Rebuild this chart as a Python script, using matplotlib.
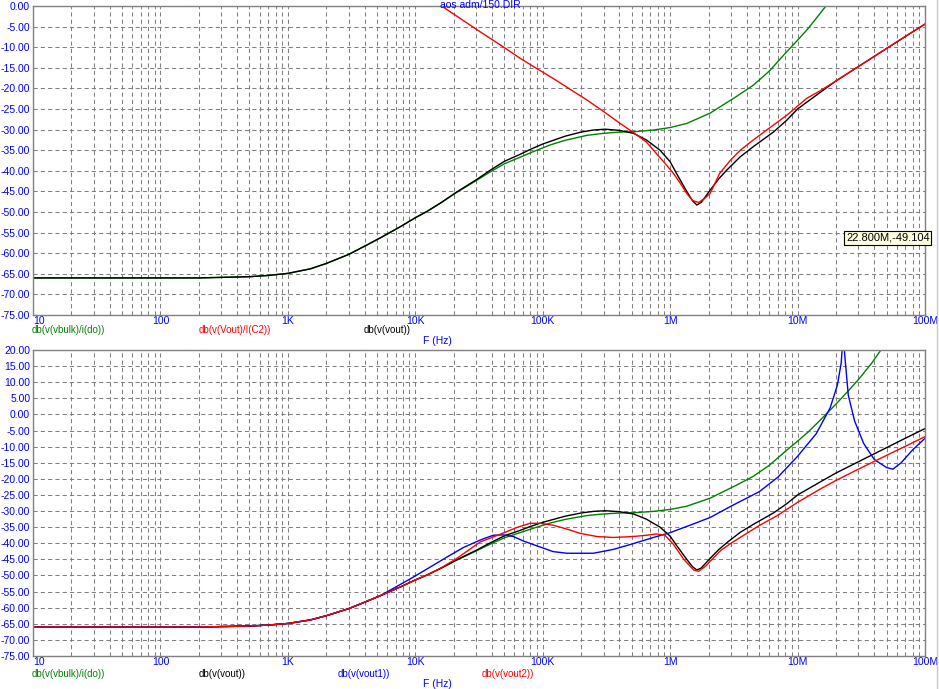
import numpy as np
import matplotlib.pyplot as plt
from matplotlib.ticker import FixedLocator, FuncFormatter
from matplotlib.lines import Line2D

plt.rcParams['font.family'] = ['Liberation Sans', 'DejaVu Sans']

# db(v(vout)) - same trace in both panels
f_vout = [10, 200, 500, 700, 1e3, 1.5e3, 2e3, 3e3, 4e3, 5.3e3, 7.6e3, 1e4, 1.23e4, 1.6e4,
          2.1e4, 3e4, 3.86e4, 5e4, 6.65e4, 8e4, 1e5, 1.5e5, 2e5, 2.5e5, 3.1e5, 4e5,
          5.15e5, 6.5e5, 8.33e5, 1e6, 1.12e6, 1.25e6, 1.35e6, 1.5e6, 1.62e6, 1.75e6,
          1.9e6, 2.06e6, 2.4e6, 2.79e6, 3.55e6, 4.51e6, 6.46e6, 8.24e6, 1e7, 1.5e7,
          2e7, 3e7, 5e7, 7e7, 1e8]
db_vout = [-66.0, -66.0, -65.7, -65.4, -64.9, -63.8, -62.5, -60.3, -58.3, -56.3, -53.6,
           -51.4, -49.9, -47.7, -45.2, -42.2, -39.9, -37.7, -36.0, -34.8, -33.5, -31.6,
           -30.6, -30.1, -29.9, -30.2, -30.9, -32.5, -35.0, -37.8, -40.6, -43.2, -45.0,
           -47.3, -48.3, -47.7, -46.2, -44.7, -42.0, -39.8, -36.6, -34.1, -30.6, -27.7,
           -25.0, -21.0, -18.2, -14.7, -10.3, -7.4, -4.4]

# db(v(vbulk)/i(do)) - both panels
f_bulk = [10, 200, 500, 700, 1e3, 1.5e3, 2e3, 3e3, 4e3, 5.3e3, 7.6e3, 1e4, 1.23e4, 1.6e4,
          2.1e4, 3e4, 3.86e4, 5e4, 6.65e4, 8.5e4, 1.15e5, 1.5e5, 2.22e5, 3e5, 4.05e5,
          5.3e5, 7.4e5, 1e6, 1.35e6, 2.06e6, 3.3e6, 4.5e6, 6e6, 8e6, 1e7, 1.2e7, 1.4e7,
          1.65e7, 2e7, 2.5e7, 3e7, 3.8e7, 4.6e7, 5e7]
db_bulk = [-66.0, -66.0, -65.7, -65.4, -64.9, -63.8, -62.5, -60.3, -58.3, -56.3, -53.6,
           -51.4, -49.9, -47.7, -45.3, -42.4, -40.3, -38.3, -36.7, -35.3, -33.7, -32.6,
           -31.4, -30.9, -30.6, -30.5, -30.1, -29.5, -28.5, -26.0, -22.0, -19.2, -15.8,
           -11.5, -8.3, -5.6, -3.0, -0.2, 3.2, 7.3, 10.8, 15.8, 20.5, 22.0]

# db(v(Vout)/I(C2)) - top panel
f_c2 = [1.61e4, 3.03e4, 5e4, 6.65e4, 9e4, 1.21e5, 1.6e5, 2.22e5, 3e5, 4.05e5, 5.48e5,
        6.5e5, 7.4e5, 9e5, 1.06e6, 1.2e6, 1.35e6, 1.5e6, 1.67e6, 1.85e6, 2.06e6, 2.25e6,
        2.45e6, 3e6, 3.55e6, 4.5e6, 6.46e6, 8.24e6, 1.18e7, 1.5e7, 2e7, 3e7, 5e7, 7e7, 1e8]
db_c2 = [0.0, -5.7, -10.1, -12.7, -15.2, -17.6, -20.0, -22.8, -25.6, -28.5, -31.3,
         -33.0, -35.0, -38.0, -40.6, -43.0, -45.5, -47.2, -47.7, -46.8, -45.5, -43.0,
         -40.6, -37.3, -35.0, -32.5, -28.9, -26.5, -22.4, -20.6, -18.2, -14.7, -10.3,
         -7.4, -4.4]

# db(v(vout1)) - bottom panel
f_vout1 = [10, 200, 500, 700, 1e3, 1.5e3, 2e3, 3e3, 4e3, 5.3e3, 9.66e3, 1.77e4, 2.39e4,
           3.23e4, 4.1e4, 4.92e4, 5.87e4, 7.06e4, 8.99e4, 1.21e5, 1.55e5, 2.5e5, 3.59e5,
           5.15e5, 7.4e5, 1e6, 1.43e6, 2.06e6, 3e6, 5e6, 7e6, 1e7, 1.4e7, 1.8e7, 2.05e7,
           2.2e7, 2.28e7, 2.35e7, 2.5e7, 2.8e7, 3.3e7, 4e7, 5e7, 5.6e7, 6.5e7, 8e7, 1e8]
db_vout1 = [-66.0, -66.0, -65.7, -65.4, -64.9, -63.8, -62.5, -60.3, -58.3, -56.3, -50.5,
            -44.3, -41.3, -39.0, -37.5, -37.4, -37.9, -39.3, -40.8, -42.6, -43.1, -43.1,
            -41.9, -40.1, -38.2, -36.7, -34.4, -32.0, -28.5, -24.0, -19.5, -13.0, -6.0,
            2.0, 9.0, 16.0, 25.0, 18.0, 6.0, -2.0, -9.0, -14.0, -16.5, -17.0, -15.0,
            -11.0, -7.4]

# db(v(vout2)) - bottom panel
f_vout2 = [10, 200, 500, 700, 1e3, 1.5e3, 2e3, 3e3, 4e3, 5.3e3, 7.6e3, 1e4, 1.23e4,
           1.6e4, 2.1e4, 3.23e4, 4.64e4, 6.27e4, 7.94e4, 9.55e4, 1.21e5, 1.55e5, 1.96e5,
           2.65e5, 3.59e5, 5.15e5, 6.55e5, 7.8e5, 9.1e5, 1.06e6, 1.28e6, 1.53e6, 1.67e6,
           1.9e6, 2.06e6, 2.5e6, 3e6, 4e6, 5e6, 7e6, 1e7, 1.5e7, 2e7, 3e7, 5e7, 7e7, 1e8]
db_vout2 = [-66.0, -66.0, -65.7, -65.4, -64.9, -63.8, -62.5, -60.3, -58.3, -56.3, -53.6,
            -51.4, -49.9, -47.6, -44.8, -39.6, -37.2, -35.1, -33.8, -33.8, -34.4, -35.6,
            -36.9, -37.9, -38.2, -37.9, -37.5, -37.1, -37.5, -40.3, -45.0, -48.3, -48.7,
            -47.1, -45.6, -42.2, -40.0, -36.9, -34.5, -31.3, -27.3, -23.2, -20.5, -17.0,
            -12.7, -9.9, -6.9]

x_major = [10, 100, 1e3, 1e4, 1e5, 1e6, 1e7, 1e8]
x_labels = ['10', '100', '1K', '10K', '100K', '1M', '10M', '100M']

GREEN = '#008000'
RED = '#ff0000'
BLUE = '#0000ff'
GRID = '#808080'

W, H = 939, 689
fig = plt.figure(figsize=(W / 100, H / 100), dpi=100)


def px(x, y):
    return x / W, 1 - y / H


def setup(ax, ymin, ymax):
    ax.set_xscale('log')
    ax.set_xlim(10, 1e8)
    ax.set_ylim(ymin, ymax)
    yt = np.arange(ymin, ymax + 1, 5)
    ax.yaxis.set_major_locator(FixedLocator(yt))
    ax.yaxis.set_major_formatter(FuncFormatter(lambda v, p: f'{v:.2f}' if v != 0 else '0.00'))
    minors = [m * 10.0 ** e for e in range(1, 8) for m in range(2, 10)]
    ax.xaxis.set_major_locator(FixedLocator(x_major))
    ax.xaxis.set_minor_locator(FixedLocator(minors))
    ax.set_xticklabels(x_labels)
    ax.tick_params(which='both', length=0, labelsize=7.5, labelcolor=BLUE, pad=1)
    ax.tick_params(axis='y', pad=2)
    ax.xaxis.get_ticklabels()[0].set_horizontalalignment('left')
    ax.grid(True, which='both', color=GRID, linestyle=(0, (4, 3)), linewidth=0.75)
    for s in ax.spines.values():
        s.set_color(GRID)
        s.set_linewidth(1)
    ax.set_axisbelow(True)


ax1 = fig.add_axes([33 / W, 1 - 315 / H, 892 / W, 309 / H])
setup(ax1, -75, 0)
ax1.plot(f_bulk, db_bulk, color=GREEN, lw=1)
ax1.plot(f_vout, db_vout, color='black', lw=1)
ax1.plot(f_c2, db_c2, color=RED, lw=1)

ax2 = fig.add_axes([33 / W, 1 - 656 / H, 892 / W, 306 / H])
setup(ax2, -75, 20)
ax2.plot(f_bulk, db_bulk, color=GREEN, lw=1)
ax2.plot(f_vout, db_vout, color='black', lw=1)
ax2.plot(f_vout1, db_vout1, color=BLUE, lw=1)
ax2.plot(f_vout2, db_vout2, color=RED, lw=1)

# trace names under each plot
fs = 7
fig.text(*px(32, 330), 'db(v(vbulk)/i(do))', color=GREEN, fontsize=fs, va='center')
fig.text(*px(199, 330), 'db(v(Vout)/I(C2))', color=RED, fontsize=fs, va='center')
fig.text(*px(364, 330), 'db(v(vout))', color='black', fontsize=fs, va='center')
fig.text(*px(423, 341), 'F (Hz)', color=BLUE, fontsize=7.5, va='center')

fig.text(*px(32, 674), 'db(v(vbulk)/i(do))', color=GREEN, fontsize=fs, va='center')
fig.text(*px(199, 674), 'db(v(vout))', color='black', fontsize=fs, va='center')
fig.text(*px(338, 674), 'db(v(vout1))', color=BLUE, fontsize=fs, va='center')
fig.text(*px(482, 674), 'db(v(vout2))', color=RED, fontsize=fs, va='center')
fig.text(*px(423, 684), 'F (Hz)', color=BLUE, fontsize=7.5, va='center')

fig.text(*px(480, 0.5), 'aos adm/150.DIR', color=BLUE, fontsize=7.5, ha='center', va='top')

fig.text(*px(846, 238), '22.800M,-49.104', color='black', fontsize=8, va='center',
         bbox=dict(boxstyle='square,pad=0.15', facecolor='#ffffe1', edgecolor='black', lw=0.8))

fig.add_artist(Line2D([937 / W, 937 / W], [0, 1], color='#c8c8c8', lw=1, transform=fig.transFigure))

fig.savefig('out.png', dpi=100)
